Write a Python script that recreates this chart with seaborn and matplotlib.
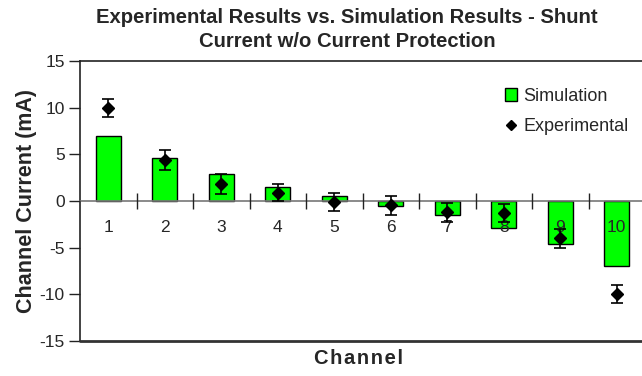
import matplotlib
matplotlib.use("Agg")
import matplotlib.pyplot as plt
from matplotlib.lines import Line2D
from matplotlib.patches import Patch
import numpy as np
import pandas as pd
import seaborn as sns

channels = ["1", "2", "3", "4", "5", "6", "7", "8", "9", "10"]
simulation = [7.0, 4.6, 2.9, 1.5, 0.5, -0.5, -1.5, -2.9, -4.6, -7.0]
experimental = [10.0, 4.4, 1.8, 0.9, -0.1, -0.45, -1.2, -1.3, -4.0, -10.0]
exp_error = [0.95, 1.1, 1.05, 0.95, 1.0, 1.0, 1.0, 1.0, 1.0, 0.95]
y_ticks = [-15, -10, -5, 0, 5, 10, 15]

sns.set_theme(style="white")
plt.rcParams["font.family"] = ["Liberation Sans", "DejaVu Sans"]
plt.rcParams["axes.unicode_minus"] = False

df = pd.DataFrame({"Channel": channels, "Simulation": simulation})

fig = plt.figure(figsize=(6.42, 3.76), dpi=100)
ax = fig.add_axes([80 / 642, 1 - 341 / 376, 565 / 642, 280 / 376])

sns.barplot(data=df, x="Channel", y="Simulation", color="#00ff00",
            saturation=1, width=0.44, edgecolor="black", linewidth=1.0,
            ax=ax, zorder=2)
ax.set_axisbelow(False)

xpos = np.arange(len(channels))
ax.errorbar(xpos, experimental, yerr=exp_error, fmt="D", color="black",
            markersize=6.5, elinewidth=1.2, capsize=4.5, capthick=1.2,
            zorder=4)

ax.set_xlim(-0.5, len(channels) - 0.5)
ax.set_ylim(-15, 15)
ax.set_yticks(y_ticks)
ax.tick_params(axis="y", direction="out", length=8, width=1, color="#222222",
               labelsize=12.5, pad=3, left=True)

# horizontal axis runs along zero, with channel numbers just below it
ax.spines["bottom"].set_position(("data", 0))
ax.spines["bottom"].set_color("#777777")
ax.spines["bottom"].set_linewidth(1.2)
ax.set_xticks(xpos[:-1] + 0.5)
ax.set_xticklabels([])
ax.set_xticks(xpos, labels=channels, minor=True)
ax.tick_params(axis="x", which="major", direction="inout", length=11,
               width=1, color="#222222", bottom=True)
ax.tick_params(axis="x", which="minor", length=0, labelsize=12.5, pad=14,
               bottom=True)

# plot frame
for side in ("left", "top"):
    ax.spines[side].set_color("#222222")
    ax.spines[side].set_linewidth(1.2)
ax.spines["right"].set_visible(False)
ax.plot([0, 1], [0, 0], transform=ax.transAxes, color="#333333", lw=2,
        clip_on=False, zorder=5)

ax.set_xlabel("")
ax.set_ylabel("Channel Current (mA)", fontsize=15.5, fontweight="bold",
              labelpad=2)
fig.text(359 / 642, 1 - 358 / 376, "\u200a".join("Channel"),
         ha="center", va="center", fontsize=14.5, fontweight="bold")
fig.suptitle("Experimental Results vs. Simulation Results - Shunt\n"
             "Current w/o Current Protection", x=347 / 642, y=0.978,
             fontsize=14.6, fontweight="bold", linespacing=1.3)

handles = [Patch(facecolor="#00ff00", edgecolor="black", linewidth=1.0),
           Line2D([], [], marker="D", color="black", linestyle="none",
                  markersize=5)]
ax.legend(handles, ["Simulation", "Experimental"], loc="upper left",
          bbox_to_anchor=(0.74, 0.93), frameon=False, fontsize=13,
          handlelength=0.65, handleheight=0.65, handletextpad=0.35,
          labelspacing=0.75, borderaxespad=0)

fig.savefig("out.png", dpi=100)
